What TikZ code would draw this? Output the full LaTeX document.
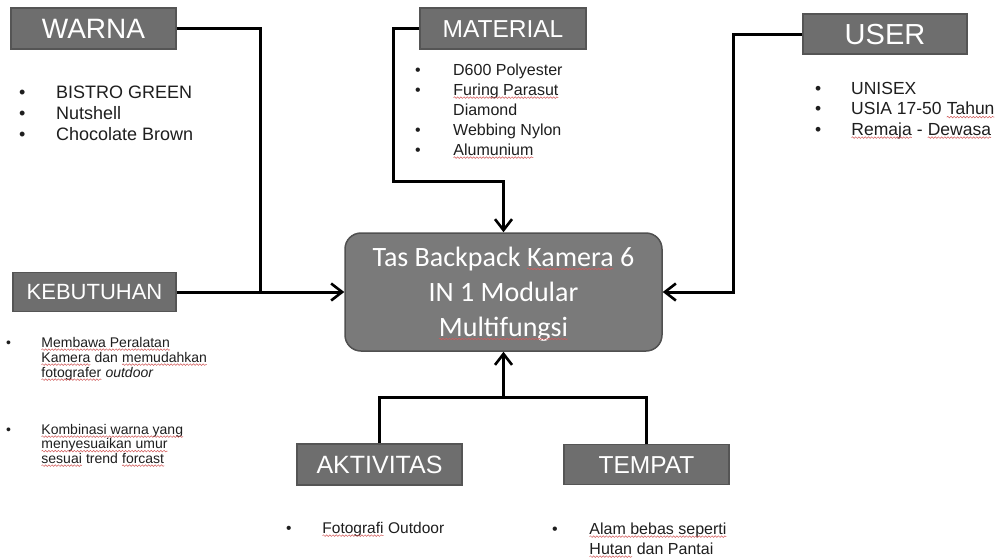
\documentclass[tikz,border=0pt]{standalone}
\usepackage{fontspec}
\setmainfont{Liberation Sans}
\newfontfamily\calfont{Carlito}
\usetikzlibrary{arrows.meta,decorations.pathmorphing}
\definecolor{wavered}{RGB}{210,90,90}
\definecolor{boxfill}{RGB}{110,110,110}
\definecolor{boxedge}{RGB}{85,85,85}
\definecolor{midfill}{RGB}{122,122,122}
\definecolor{midedge}{RGB}{80,80,80}
\definecolor{listtext}{RGB}{30,30,30}
\newcommand\sq[1]{\tikz[baseline=(w.base)]{\node[inner sep=0pt,outer sep=0pt,draw=none,fill=none,minimum width=0pt,minimum height=0pt,anchor=base west,shape=rectangle](w){#1};\draw[wavered,line width=0.5pt,fill=none,decorate,decoration={snake,amplitude=0.8pt,segment length=3.2pt}]([yshift=-2.6pt]w.base west)--([yshift=-2.6pt]w.base east);}}
\begin{document}
\begin{tikzpicture}[x=1pt,y=-1pt,
  lab/.style={draw=boxedge, fill=boxfill, line width=1.2pt, text=white, inner sep=0pt,
              minimum width=165pt, minimum height=41pt, text depth=0pt},
  conn/.style={line width=3pt},
  arr/.style={conn, -{Straight Barb[length=11pt,width=17pt,line width=2.6pt]}},
  lst/.style={inner sep=0pt, anchor=base west, text=listtext}]
\useasboundingbox (0,0) rectangle (1001,558);
\fill[white] (0,0) rectangle (1001,558);

% category boxes
\node[lab, text height=20.2pt, font=\fontsize{28}{30}\selectfont] (warna) at (93.5,28.5) {WARNA};
\node[lab, text height=17.6pt, minimum width=166pt, font=\fontsize{24.5}{28}\selectfont] (mat) at (503,28.5) {MATERIAL};
\node[lab, text height=20.9pt, minimum width=164pt, minimum height=40pt, font=\fontsize{29}{30}\selectfont] (user) at (885,34) {USER};
\node[lab, text height=15.8pt, minimum width=163pt, minimum height=39pt, font=\fontsize{22}{26}\selectfont] (keb) at (94.5,292) {KEBUTUHAN};
\node[lab, text height=18pt, font=\fontsize{25}{28}\selectfont] (akt) at (379.5,464.5) {AKTIVITAS};
\node[lab, text height=17.6pt, minimum height=40pt, font=\fontsize{24.5}{28}\selectfont] (tem) at (646.5,464.5) {TEMPAT};

% central box
\node[draw=midedge, fill=midfill, line width=1.5pt, rounded corners=16pt,
      minimum width=317pt, minimum height=118pt, inner sep=0pt] (center) at (503.5,292) {};
\node[inner sep=0pt, align=center, text=white,
      font=\calfont\fontsize{28}{35}\selectfont] (centertext) at (503.5,294)
  {Tas Backpack \sq{Kamera} 6\\IN 1 Modular\\\sq{Multifungsi}};

% lists
\node[lst, font=\fontsize{18}{21}\selectfont] (warnalist) at (19,98)
  {\begin{tabular}[t]{@{}p{37pt}@{}l@{}}\textbullet & BISTRO GREEN\\ \textbullet & Nutshell\\ \textbullet & Chocolate Brown\end{tabular}};
\node[lst, font=\fontsize{16}{20}\selectfont] (matlist) at (415,75)
  {\begin{tabular}[t]{@{}p{38pt}@{}l@{}}\textbullet & D600 Polyester\\ \textbullet & \sq{Furing Parasut}\\ & Diamond\\ \textbullet & Webbing Nylon\\ \textbullet & \sq{Alumunium}\end{tabular}};
\node[lst, font=\fontsize{17.5}{20.5}\selectfont] (userlist) at (815,94)
  {\begin{tabular}[t]{@{}p{36pt}@{}l@{}}\textbullet & UNISEX\\ \textbullet & USIA 17-50 \sq{Tahun}\\ \textbullet & \sq{Remaja} - \sq{Dewasa}\end{tabular}};
\node[lst, font=\fontsize{14}{15}\selectfont] (keblista) at (6,347)
  {\begin{tabular}[t]{@{}p{35pt}@{}l@{}}\textbullet & \sq{Membawa Peralatan}\\ & \sq{Kamera} dan \sq{memudahkan}\\ & \sq{fotografer} \textit{outdoor}\end{tabular}};
\node[lst, font=\fontsize{14}{14.5}\selectfont] (keblistb) at (6,434)
  {\begin{tabular}[t]{@{}p{35pt}@{}l@{}}\textbullet & \sq{Kombinasi warna yang}\\ & \sq{menyesuaikan umur}\\ & \sq{sesuai} trend \sq{forcast}\end{tabular}};
\node[lst, font=\fontsize{15.5}{20}\selectfont] (aktlist) at (286,533)
  {\begin{tabular}[t]{@{}p{36pt}@{}l@{}}\textbullet & \sq{Fotografi} Outdoor\end{tabular}};
\node[lst, font=\fontsize{16}{20}\selectfont] (temlist) at (552,534)
  {\begin{tabular}[t]{@{}p{37pt}@{}l@{}}\textbullet & \sq{Alam bebas seperti}\\ & \sq{Hutan} dan Pantai\end{tabular}};

% connectors
\coordinate (jw) at (260,292);
\coordinate (mturn) at (393,181);
\coordinate (uturn) at (733,292);
\coordinate (bl) at (379.5,397);
\coordinate (br) at (646.5,397);
\coordinate (bm) at (503.5,397);

\draw[conn] (warna.east) -| (jw);
\draw[arr] (keb.east) -- (center.west);
\draw[arr] (mat.west) -| (mturn) -| (center.north);
\draw[arr] (user.west) -| (uturn) -- (center.east);
\draw[conn] (akt.north) -- (bl) -- (br) -- (tem.north);
\draw[arr] (bm) -- (center.south);
\end{tikzpicture}
\end{document}
